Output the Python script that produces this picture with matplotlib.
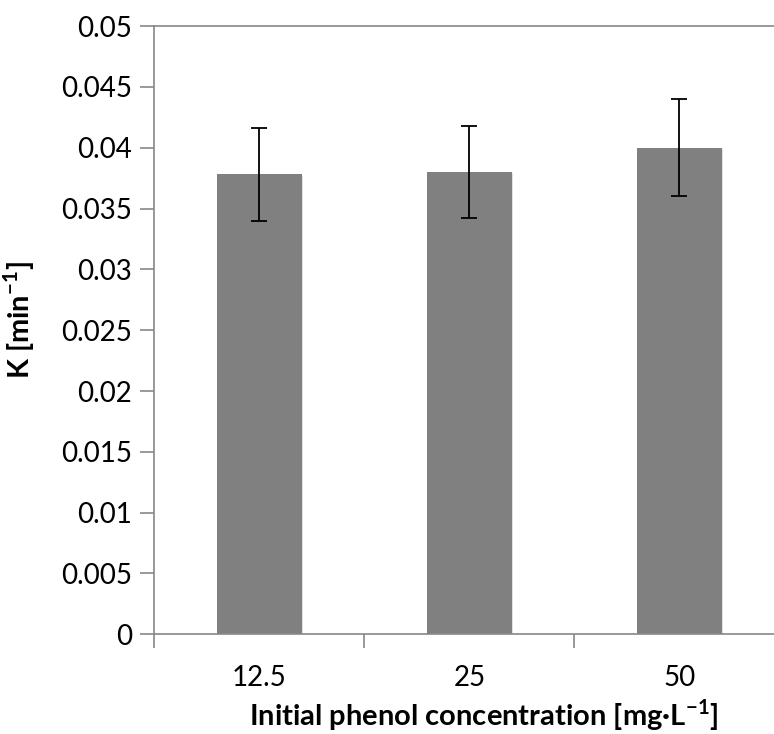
import matplotlib.pyplot as plt
import matplotlib.patheffects as pe
import numpy as np

plt.rcParams['font.family'] = ['Lato', 'DejaVu Sans']
plt.rcParams['mathtext.fontset'] = 'custom'
plt.rcParams['mathtext.rm'] = 'Lato'
plt.rcParams['mathtext.bf'] = 'Lato:bold'

# phenol concentrations and rate constants
concentrations = ["12.5", "25", "50"]
k_values = [0.0378, 0.0380, 0.0400]
k_errors = [0.0038, 0.0038, 0.0040]

fig = plt.figure(figsize=(7.74, 7.34), dpi=100)
# plot area runs past the right edge like in the original (cropped) chart
ax = fig.add_axes([0.1994, 0.1358, 0.814, 0.8287])

x = np.arange(len(concentrations))
bars = ax.bar(x, k_values, width=0.406, color="#808080", zorder=2)
for b in bars:
    b.set_path_effects([pe.SimplePatchShadow(offset=(1, -1), shadow_rgbFace="#aaaaaa", alpha=0.35),
                        pe.Normal()])

ax.errorbar(x, k_values, yerr=k_errors, fmt="none", ecolor="black",
            elinewidth=1.3, capsize=6, capthick=1.3, zorder=3)

ax.set_xlim(-0.5, 2.5)
ax.set_ylim(0, 0.05)
ax.set_yticks(np.arange(0, 0.0501, 0.005))
ax.set_yticklabels(["0", "0.005", "0.01", "0.015", "0.02", "0.025",
                    "0.03", "0.035", "0.04", "0.045", "0.05"])
ax.set_xticks([-0.5, 0.5, 1.5, 2.5])
ax.set_xticklabels([])
ax.set_xticks(x, minor=True)
ax.set_xticklabels(concentrations, minor=True)

for side in ["left", "bottom", "top"]:
    ax.spines[side].set_color("#888888")
    ax.spines[side].set_linewidth(1.2)
ax.spines["right"].set_visible(False)

ax.tick_params(axis="both", which="major", direction="out", length=10,
               width=1.2, color="#888888", labelsize=20, pad=6)
ax.tick_params(axis="x", which="minor", length=0, labelsize=20, pad=22)

ax.set_xlabel(r"Initial phenol concentration [mg·L$^{\mathbf{-1}}$]",
              fontsize=21, fontweight="bold")
ax.xaxis.set_label_coords(0.5225, -0.104)
ax.set_ylabel(r"K [min$^{\mathbf{-1}}$]", fontsize=21, fontweight="bold")
ax.yaxis.set_label_coords(-0.186, 0.517)

fig.savefig("out.png", dpi=100)
